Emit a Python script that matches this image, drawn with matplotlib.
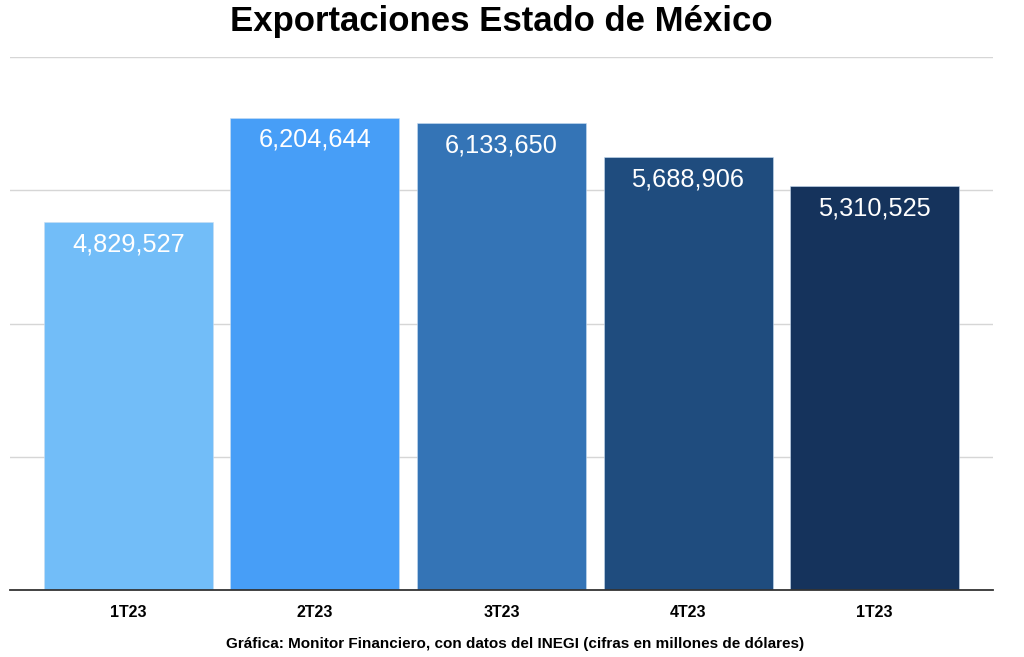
import matplotlib.pyplot as plt
import numpy as np

plt.rcParams['font.family'] = ['Liberation Sans', 'DejaVu Sans']

# datos
trimestres = ["1T23", "2T23", "3T23", "4T23", "1T23"]
exportaciones = [4829527, 6204644, 6133650, 5688906, 5310525]
colores = ["#72bdf8", "#479ef7", "#3474b6", "#1f4c7e", "#15335c"]

fig = plt.figure(figsize=(10.24, 6.57), dpi=100)
ax = fig.add_axes([10 / 1024, 1 - 590 / 657, 983 / 1024, 533 / 657])

x = np.arange(len(exportaciones))
bars = ax.bar(x, exportaciones, width=0.906, color=colores, zorder=2,
              edgecolor="#c9ddf2", linewidth=0.4)

for xi, v in zip(x, exportaciones):
    ax.annotate(f"{v:,}", (xi, v), xytext=(0, -7.5), textcoords="offset points",
                ha="center", va="top", color="white", fontsize=18.3)

ax.set_xlim(-0.635, 4.635)
ax.set_ylim(0, 7000000)
ax.set_yticks(np.arange(1750000, 7000001, 1750000))
ax.yaxis.grid(True, color="#d6d6d6", linewidth=1, zorder=0)
ax.tick_params(axis="y", left=False, labelleft=False)
ax.tick_params(axis="x", length=0, pad=11)
ax.set_xticks(x)
ax.set_xticklabels(trimestres, fontsize=11.5, fontweight="bold")

for s in ["top", "right", "left"]:
    ax.spines[s].set_visible(False)
ax.spines["bottom"].set_color("#333333")
ax.spines["bottom"].set_linewidth(1.3)
ax.spines["bottom"].set_zorder(3)

fig.text(0.4895, 1 - 21 / 657, "Exportaciones Estado de México", ha="center", va="center",
         fontsize=25, fontweight="bold")
fig.text(0.5034, 1 - 644 / 657,
         "Gráfica: Monitor Financiero, con datos del INEGI (cifras en millones de dólares)",
         ha="center", va="center", fontsize=11, fontweight="bold")

fig.savefig("out.png", dpi=100, facecolor="white")
